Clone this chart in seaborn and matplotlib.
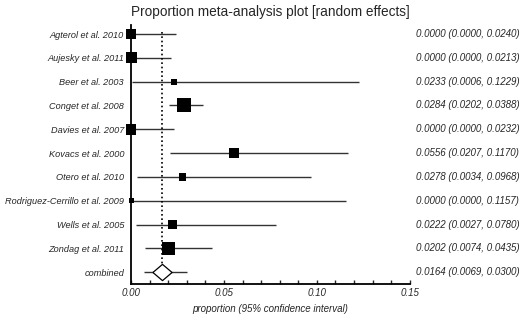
import numpy as np
import pandas as pd
import seaborn as sns
import matplotlib.pyplot as plt
from matplotlib.path import Path
from matplotlib.ticker import MultipleLocator

# study data
studies = ['Agterol et al. 2010', 'Aujesky et al. 2011', 'Beer et al. 2003',
           'Conget et al. 2008', 'Davies et al. 2007', 'Kovacs et al. 2000',
           'Otero et al. 2010', 'Rodriguez-Cerrillo et al. 2009',
           'Wells et al. 2005', 'Zondag et al. 2011']
est = [0.0000, 0.0000, 0.0233, 0.0284, 0.0000, 0.0556, 0.0278, 0.0000, 0.0222, 0.0202]
lower = [0.0000, 0.0000, 0.0006, 0.0202, 0.0000, 0.0207, 0.0034, 0.0000, 0.0027, 0.0074]
upper = [0.0240, 0.0213, 0.1229, 0.0388, 0.0232, 0.1170, 0.0968, 0.1157, 0.0780, 0.0435]
# relative box side (weight)
weight = [10, 11, 6, 14, 10.5, 10, 7.5, 5, 9, 13]

# pooled estimate
comb_label = 'combined'
comb_est = 0.0164
comb_lo = 0.0069
comb_hi = 0.0300

sns.set_style('white')
plt.rcParams['font.family'] = ['Liberation Sans', 'DejaVu Sans']

df = pd.DataFrame({'study': studies, 'est': est, 'lo': lower, 'hi': upper,
                   'row': np.arange(len(studies)),
                   'area': [(w * 0.72) ** 2 for w in weight]})
comb_row = len(studies)

fig = plt.figure(figsize=(5.2, 3.16), dpi=100)
ax = fig.add_axes([0.252, 0.101, 0.536, 0.82])

# CI lines
ax.hlines(df['row'], df['lo'], df['hi'], color='#333333', lw=1)
ax.hlines(comb_row, comb_lo, comb_hi, color='#333333', lw=1)

# boxes
amin, amax = df['area'].min(), df['area'].max()
sns.scatterplot(data=df, x='est', y='row', size='area', sizes=(amin, amax),
                size_norm=(amin, amax), marker='s', color='black',
                edgecolor='black', linewidth=0, legend=False, ax=ax, zorder=3,
                clip_on=False)

# pooled dotted line + diamond
ax.vlines(comb_est, -0.1, comb_row - 0.35, color='black', lw=1.2,
          linestyles=(0, (1, 1.6)), zorder=2)
diamond = Path([(-1, 0), (0, 0.85), (1, 0), (0, -0.85), (-1, 0)])
ax.scatter([comb_est], [comb_row], marker=diamond, s=190, facecolor='white',
           edgecolor='black', linewidth=0.9, zorder=4)

# right column text
fs = 7
for i, r in df.iterrows():
    ax.text(1.022, r['row'], f"{r['est']:.4f} ({r['lo']:.4f}, {r['hi']:.4f})",
            transform=ax.get_yaxis_transform(), va='center', ha='left',
            fontsize=fs, style='italic')
ax.text(1.022, comb_row, f"{comb_est:.4f} ({comb_lo:.4f}, {comb_hi:.4f})",
        transform=ax.get_yaxis_transform(), va='center', ha='left',
        fontsize=fs, style='italic')

# axes styling
ax.set_xlim(0, 0.15)
ax.set_ylim(comb_row + 0.5, -0.38)
ax.set_yticks(list(df['row']) + [comb_row])
ax.set_yticklabels(studies + [comb_label], fontsize=6.6, style='italic')
ax.tick_params(axis='y', length=0, pad=5)
ax.set_xticks([0, 0.05, 0.10, 0.15])
ax.set_xticklabels(['0.00', '0.05', '0.10', '0.15'], fontsize=fs, style='italic')
ax.xaxis.set_minor_locator(MultipleLocator(0.01))
ax.tick_params(axis='x', which='both', direction='in', length=3, width=1,
               bottom=True, pad=3)
ax.set_xlabel('proportion (95% confidence interval)', fontsize=fs,
              style='italic', labelpad=4)
ax.set_ylabel('')
for s in ['top', 'right']:
    ax.spines[s].set_visible(False)
for s in ['left', 'bottom']:
    ax.spines[s].set_color('black')
    ax.spines[s].set_linewidth(1.3)

fig.text(0.52, 0.985, 'Proportion meta-analysis plot [random effects]',
         ha='center', va='top', fontsize=9.8)

fig.savefig('out.png', dpi=100)
